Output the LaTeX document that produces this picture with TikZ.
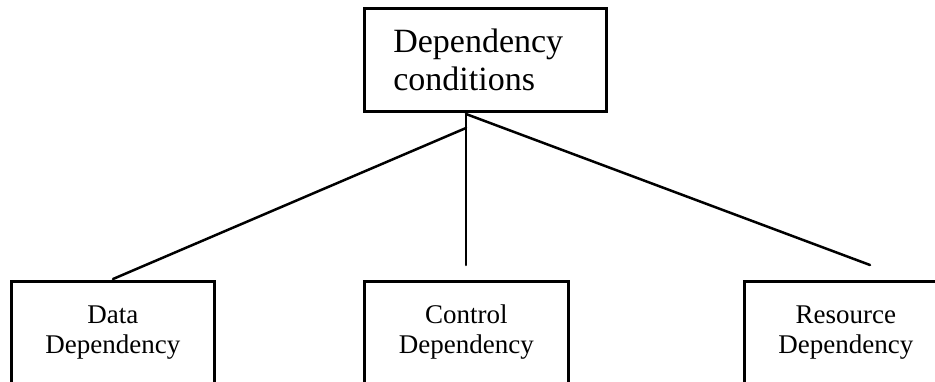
\documentclass[tikz,border=0pt]{standalone}
\usepackage{fontspec}
\setmainfont{Liberation Serif}
\begin{document}
\begin{tikzpicture}[x=1pt,y=-1pt,
  box/.style={draw=black,line width=2.6pt,inner sep=0pt,anchor=north west},
  leaf/.style={box,minimum width=203pt,minimum height=102pt,align=center,
    font=\fontsize{27}{30}\selectfont},
  link/.style={line width=2.5pt,line cap=round}]
  \useasboundingbox (0,0) rectangle (935,381);
  % root box
  \node[box,minimum width=242pt,minimum height=103pt,text width=184pt,
        align=left,font=\fontsize{34}{38}\selectfont] (root) at (363,7)
        {Dependency\\conditions};
  % leaf boxes (their bottoms run off the page edge)
  \node[leaf] (data) at (10,280) {Data\\Dependency};
  \node[leaf,minimum width=204pt] (ctrl) at (363,280) {Control\\Dependency};
  \node[leaf] (res) at (743,280) {Resource\\Dependency};
  % branch points and loose ends
  \coordinate (apex) at (466,114);
  \coordinate (apexL) at (466,128);
  \coordinate (dataEnd) at (113,279);
  \coordinate (ctrlEnd) at (466,265);
  \coordinate (resEnd) at (870,265);
  \draw[link] (apexL) -- (dataEnd);
  \draw[link] (apex) -- (ctrlEnd);
  \draw[link] (apex) -- (resEnd);
\end{tikzpicture}
\end{document}
